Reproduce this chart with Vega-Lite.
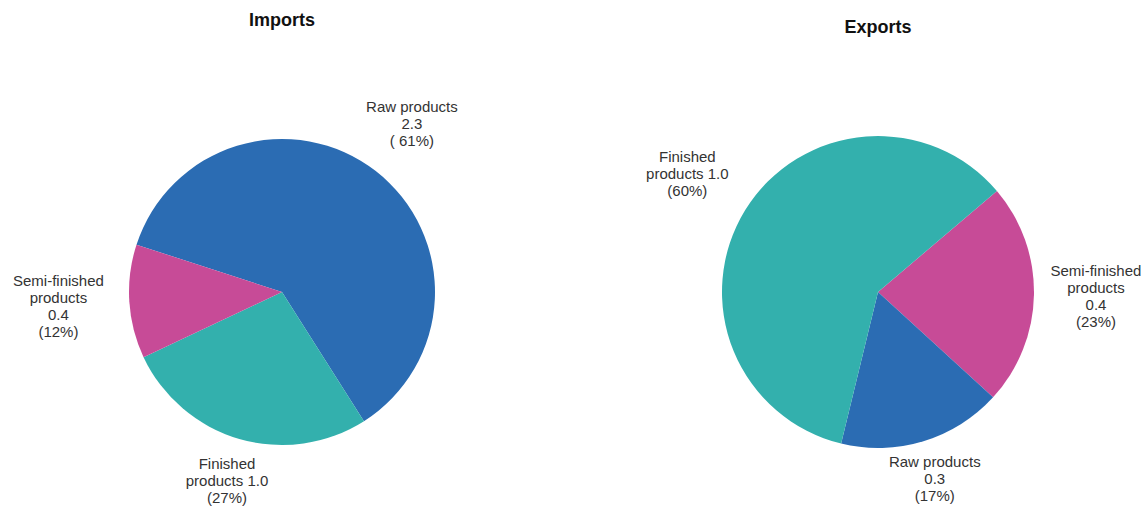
{
  "$schema": "https://vega.github.io/schema/vega-lite/v6.json",
  "padding": {"top": 12, "left": 0, "right": 0, "bottom": 0},
  "background": "white",
  "spacing": 49,
  "config": {
    "view": {"stroke": null},
    "title": {"font": "Liberation Sans", "fontSize": 18, "fontWeight": "bold", "color": "#111111", "anchor": "middle"},
    "text": {"font": "Liberation Sans", "fontSize": 15, "lineHeight": 17, "lineBreak": "\n", "color": "#333333", "align": "center", "baseline": "middle"}
  },
  "datasets": {
    "imports": [
      {"category": "Raw products", "value": 2.3, "pct": 61, "ord": 1, "label": "Raw products\n2.3\n( 61%)"},
      {"category": "Finished products", "value": 1.0, "pct": 27, "ord": 2, "label": "Finished\nproducts  1.0\n(27%)"},
      {"category": "Semi-finished products", "value": 0.4, "pct": 12, "ord": 3, "label": "Semi-finished\nproducts\n0.4\n(12%)"}
    ],
    "exports": [
      {"category": "Semi-finished products", "value": 0.4, "pct": 23, "ord": 1, "label": "Semi-finished\nproducts\n0.4\n(23%)"},
      {"category": "Raw products", "value": 0.3, "pct": 17, "ord": 2, "label": "Raw products\n0.3\n(17%)"},
      {"category": "Finished products", "value": 1.0, "pct": 60, "ord": 3, "label": "Finished\nproducts  1.0\n(60%)"}
    ]
  },
  "hconcat": [
    {
      "width": 564,
      "height": 436,
      "title": {"text": "Imports", "offset": 44},
      "data": {"name": "imports"},
      "encoding": {
        "theta": {"field": "pct", "type": "quantitative", "stack": true, "scale": {"range": [-1.2566, 5.0266]}},
        "order": {"field": "ord", "type": "quantitative"}
      },
      "layer": [
        {
          "mark": {"type": "arc", "outerRadius": 153},
          "encoding": {
            "color": {"field": "category", "type": "nominal", "legend": null,
              "scale": {"domain": ["Raw products", "Finished products", "Semi-finished products"], "range": ["#2B6CB3", "#33B0AD", "#C74B97"]}}
          }
        },
        {
          "mark": {"type": "text", "radius": 212, "dy": -17},
          "encoding": {"text": {"condition": {"test": "datum.category == 'Raw products'", "field": "label", "type": "nominal"}, "value": ""}}
        },
        {
          "mark": {"type": "text", "radius": 224, "dy": -25},
          "encoding": {"text": {"condition": {"test": "datum.category == 'Semi-finished products'", "field": "label", "type": "nominal"}, "value": ""}}
        },
        {
          "mark": {"type": "text", "radius": 197, "dy": -17},
          "encoding": {"text": {"condition": {"test": "datum.category == 'Finished products'", "field": "label", "type": "nominal"}, "value": ""}}
        }
      ]
    },
    {
      "width": 530,
      "height": 436,
      "title": {"text": "Exports", "offset": 44, "dy": 7},
      "data": {"name": "exports"},
      "encoding": {
        "theta": {"field": "pct", "type": "quantitative", "stack": true, "scale": {"range": [0.867, 7.150]}},
        "order": {"field": "ord", "type": "quantitative"}
      },
      "layer": [
        {
          "mark": {"type": "arc", "outerRadius": 156},
          "encoding": {
            "color": {"field": "category", "type": "nominal", "legend": null,
              "scale": {"domain": ["Raw products", "Finished products", "Semi-finished products"], "range": ["#2B6CB3", "#33B0AD", "#C74B97"]}}
          }
        },
        {
          "mark": {"type": "text", "radius": 224, "dy": -17},
          "encoding": {"text": {"condition": {"test": "datum.category == 'Finished products'", "field": "label", "type": "nominal"}, "value": ""}}
        },
        {
          "mark": {"type": "text", "radius": 218, "dy": -25},
          "encoding": {"text": {"condition": {"test": "datum.category == 'Semi-finished products'", "field": "label", "type": "nominal"}, "value": ""}}
        },
        {
          "mark": {"type": "text", "radius": 195, "dy": -17},
          "encoding": {"text": {"condition": {"test": "datum.category == 'Raw products'", "field": "label", "type": "nominal"}, "value": ""}}
        }
      ]
    }
  ]
}
